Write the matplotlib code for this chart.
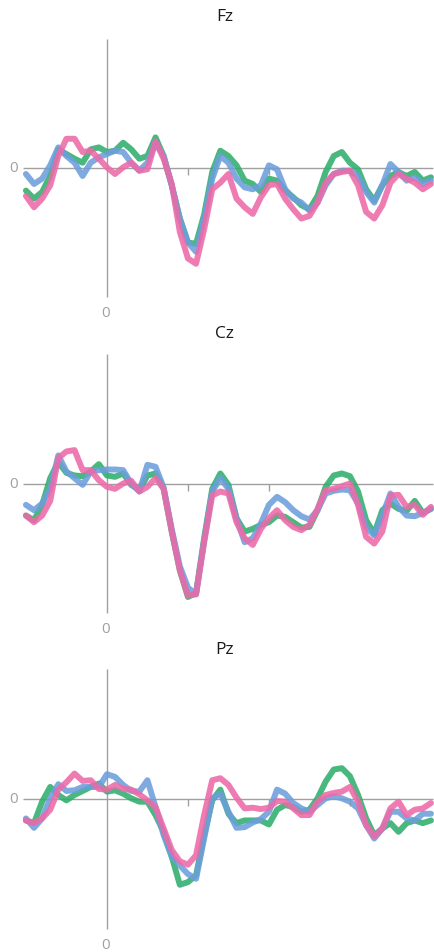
import numpy as np
import matplotlib.pyplot as plt

plt.rcParams['font.family'] = ['Open Sans', 'DejaVu Sans']

# sample times (ms), one point every 20 ms from -200 to 800
times = np.arange(-200, 801, 20)

channels = ["Fz", "Cz", "Pz"]

# grand-average amplitudes (uV) per condition
Fz_green = [-1.7, -2.3, -1.8, -0.6, 1.4, 1.05, 0.7, 0.4, 1.4, 1.55, 1.2, 1.3, 1.9, 1.4, 0.7, 0.9,
            2.3, 0.9, -1.3, -3.8, -5.6, -5.7, -3.5, -0.3, 1.3, 0.9, 0.2, -0.95, -1.2, -1.8, -0.8,
            -0.95, -1.7, -2.2, -2.8, -3.1, -2.1, -0.3, 0.9, 1.2, 0.4, -0.1, -1.6, -2.45, -1.3,
            -0.6, -0.3, -0.6, -0.3, -0.95, -0.7]
Fz_blue = [-0.45, -1.2, -0.8, 0.2, 1.55, 0.9, 0.4, -0.6, 0.4, 0.8, 1.05, 1.3, 1.2, 0.4, -0.2, 0.4,
           1.9, 0.9, -1.3, -3.8, -5.6, -6.3, -3.8, -0.8, 0.9, 0.4, -0.8, -1.45, -1.6, -1.3, 0.2,
           -0.1, -1.6, -2.3, -2.6, -3.2, -2.6, -1.3, -0.45, -0.2, -0.2, -0.6, -1.8, -2.6, -1.3,
           0.3, -0.3, -0.95, -0.7, -1.2, -0.95]
Fz_pink = [-2.1, -2.95, -2.3, -1.3, 0.9, 2.2, 2.2, 1.2, 1.3, 0.7, 0.05, -0.45, 0.05, 0.4, -0.2, -0.1,
           2.0, 0.7, -1.2, -4.8, -6.8, -7.2, -4.6, -1.6, -1.1, -0.45, -2.3, -2.95, -3.45, -2.2, -1.3,
           -1.2, -2.3, -3.1, -3.8, -3.6, -2.6, -1.1, -0.45, -0.3, -0.2, -1.3, -3.3, -3.8, -2.8,
           -1.1, -0.45, -0.8, -1.1, -1.6, -1.2]

Cz_green = [-2.4, -2.75, -1.6, 0.4, 1.6, 0.8, 0.6, 0.55, 0.9, 1.45, 0.6, 0.5, 0.75, -0.1, -0.5, 0.6,
            0.75, -0.4, -3.6, -6.5, -8.5, -8.2, -4.1, -0.4, 0.75, -0.1, -2.6, -3.6, -3.4, -3.1, -2.9,
            -2.4, -2.5, -2.9, -3.3, -3.25, -2.0, -0.25, 0.6, 0.75, 0.55, -0.6, -2.75, -3.75, -2.0,
            -1.5, -1.9, -2.05, -1.3, -2.2, -1.9]
Cz_blue = [-1.6, -2.0, -1.5, -0.4, 2.1, 0.9, 0.4, -0.1, 0.9, 1.0, 1.05, 1.05, 1.0, 0.0, -0.6, 1.4,
           1.25, -0.3, -3.4, -6.2, -7.8, -8.3, -4.3, -0.6, 0.4, -0.4, -2.6, -4.4, -4.1, -3.0, -1.6,
           -1.0, -1.4, -2.0, -2.45, -2.7, -2.0, -0.75, -0.55, -0.45, -0.5, -1.5, -3.25, -3.9, -2.4,
           -0.75, -1.75, -2.4, -2.45, -2.2, -1.9]
Cz_pink = [-2.4, -2.9, -2.4, -1.3, 1.9, 2.4, 2.5, 1.0, 1.0, 0.25, -0.25, -0.4, 0.0, 0.2, -0.6, -0.25,
           0.4, -0.4, -3.6, -6.5, -8.4, -8.3, -4.4, -0.9, -0.6, -0.75, -2.9, -4.1, -4.6, -3.4, -2.6,
           -2.0, -2.75, -3.25, -3.5, -3.1, -1.9, -0.5, -0.4, -0.2, 0.0, -1.6, -4.0, -4.5, -3.6,
           -0.9, -0.85, -1.75, -1.6, -2.35, -1.75]

Pz_green = [-1.6, -1.8, -0.2, 0.9, 0.3, -0.1, 0.3, 0.6, 0.9, 1.15, 0.55, 0.65, 0.4, 0.05, -0.2, -0.2,
            -1.2, -2.45, -4.3, -6.4, -6.2, -5.7, -2.7, -0.1, 0.7, -1.1, -1.8, -1.6, -1.6, -1.6, -1.9,
            -0.8, -0.45, -0.6, -0.95, -0.8, 0.05, 1.3, 2.2, 2.3, 1.7, 0.3, -1.45, -2.7, -2.2,
            -1.8, -2.45, -1.8, -1.6, -1.8, -1.6]
Pz_blue = [-1.45, -2.15, -1.45, 0.05, 1.1, 0.6, 0.65, 0.9, 0.9, 0.9, 1.85, 1.65, 1.05, 0.6, 0.55, 1.4,
           -0.6, -2.7, -4.3, -4.95, -5.6, -5.95, -2.95, 0.05, 0.4, -0.95, -2.15, -2.1, -1.75, -1.5,
           -0.95, 0.7, 0.4, -0.3, -0.7, -0.95, -0.45, 0.05, 0.2, 0.05, -0.2, -0.7, -1.95, -2.95,
           -2.2, -0.95, -0.95, -1.45, -1.6, -1.1, -1.1]
Pz_pink = [-1.6, -1.8, -1.45, -0.8, 0.7, 1.25, 1.9, 1.35, 1.4, 0.75, 0.7, 1.05, 0.75, 0.7, 0.35, -0.1,
           -0.6, -2.2, -3.8, -4.65, -4.9, -4.2, -1.2, 1.4, 1.55, 1.05, 0.1, -0.7, -0.65, -0.75, -0.65,
           -0.15, -0.2, -0.7, -1.2, -1.2, -0.2, 0.3, 0.45, 0.55, 0.9, -0.2, -1.95, -2.8, -2.2,
           -0.7, -0.2, -1.2, -0.8, -0.7, -0.3]

waves = {
    "Fz": [Fz_green, Fz_blue, Fz_pink],
    "Cz": [Cz_green, Cz_blue, Cz_pink],
    "Pz": [Pz_green, Pz_blue, Pz_pink],
}
colors = ["#2fae6c", "#6c9edc", "#ec6aa8"]
time_ticks = [200, 400, 600]

W, H = 435, 953
fig = plt.figure(figsize=(W / 100, H / 100), dpi=100)
fig.patch.set_facecolor("white")

# pixel rows of (top of y axis, bottom of y axis, title) for each panel
boxes = [(40, 298, 17), (355, 614, 334), (670, 930, 650)]
ylim = 9.7
grey = "#a0a0a0"

for ch, (top, bot, ty) in zip(channels, boxes):
    ax = fig.add_axes([0, 1 - bot / H, 1, (bot - top) / H])
    ax.set_xlim(-264, 810)
    ax.set_ylim(-ylim, ylim)
    ax.axis("off")

    # axes through the origin
    ax.hlines(0, -207, 805, color=grey, lw=1.0, clip_on=False, zorder=1)
    ax.vlines(0, -ylim, ylim, color=grey, lw=1.0, clip_on=False, zorder=1)
    ax.vlines(time_ticks, -0.55, 0, color=grey, lw=1.0, clip_on=False, zorder=1)

    for vals, c in zip(waves[ch], colors):
        ax.plot(times, vals, color=c, lw=4.3, alpha=0.88, solid_capstyle="round",
                solid_joinstyle="round", clip_on=False, zorder=2)

    ax.text(-230, 0, "0", color=grey, fontsize=11, ha="center", va="center")
    ax.text(-3, -ylim - 1.15, "0", color=grey, fontsize=11, ha="center", va="center")
    fig.text(225 / W, 1 - ty / H, ch, color="#1a1a1a", fontsize=12.5, ha="center", va="center")

fig.savefig("out.png", dpi=100, facecolor="white")
